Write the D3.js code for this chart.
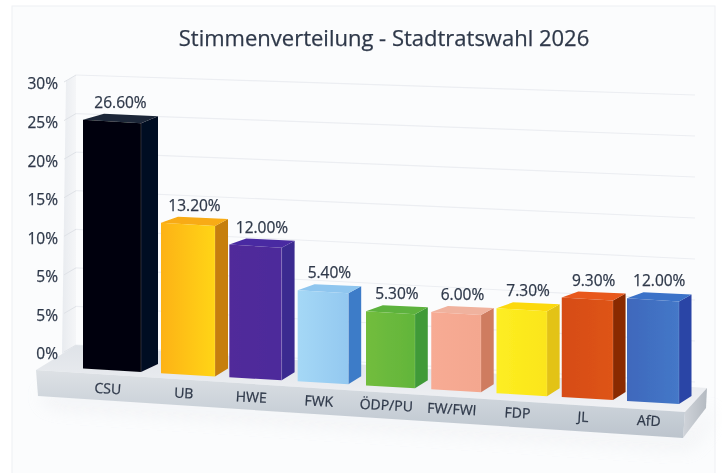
<!DOCTYPE html>
<html>
<head>
<meta charset="utf-8">
<script src="https://cdn.jsdelivr.net/npm/d3@7"></script>
<style>
  html, body { margin: 0; padding: 0; background: #fff; }
  text { font-family: "Open Sans", "Noto Sans", sans-serif; fill: #2f394a; stroke: #2f394a; stroke-width: 0.25px; }
</style>
</head>
<body>
<div id="chart"></div>
<script>
// Chart data
const categories = ["CSU", "UB", "HWE", "FWK", "ÖDP/PU", "FW/FWI", "FDP", "JL", "AfD"];
const valueLabels = ["26.60%", "13.20%", "12.00%", "5.40%", "5.30%", "6.00%", "7.30%", "9.30%", "12.00%"];
// Printed numbers and bar heights disagree in the picture, so heights are read
// separately, in rows of the axis (0 = "0%" row, 7 = "30%" row)
const barLevels = [6.45, 3.9, 3.44, 2.36, 1.92, 2.0, 2.2, 2.58, 2.66];
const tickLabels = ["30%", "25%", "20%", "15%", "10%", "5%", "5%", "0%"];

// Colours: front left, front right, side, top
const barColors = [
    ["#04050e", "#04050e", "#060a20", "#1c2838"],
    ["#fdb216", "#ffd518", "#c67f10", "#f8ab12"],
    ["#51299a", "#4d2b9b", "#3b2b90", "#4a2ca2"],
    ["#a5d8f6", "#93c8f0", "#3e7cc8", "#8fc6ef"],
    ["#72bd3e", "#62b53a", "#3f9a38", "#5db23c"],
    ["#f7ab94", "#f4a78f", "#cf7b60", "#f0b29e"],
    ["#fdee22", "#fbe51a", "#e3c312", "#fcd90c"],
    ["#d64c16", "#de5418", "#8a2c06", "#e8581c"],
    ["#3f68bc", "#4478c8", "#2a45a6", "#3a72c8"]
];

const width = 722, height = 473;

const svg = d3.select("#chart")
    .append("svg")
    .attr("width", width)
    .attr("height", height)
    .style("display", "block");

const defs = svg.append("defs");
defs.append("filter").attr("id", "soft")
    .append("feGaussianBlur").attr("stdDeviation", 0.45);
defs.append("filter").attr("id", "shadow")
    .attr("x", "-20%").attr("y", "-50%").attr("width", "140%").attr("height", "200%")
    .append("feGaussianBlur").attr("stdDeviation", 10);

function gradient(id, x2, y2, stops) {
    const g = defs.append("linearGradient").attr("id", id)
        .attr("x1", 0).attr("y1", 0).attr("x2", x2).attr("y2", y2);
    stops.forEach((c, i) => g.append("stop")
        .attr("offset", i / (stops.length - 1))
        .attr("stop-color", c));
    return `url(#${id})`;
}

// Scales, the anchors follow the perspective of the picture
const xLeft = d3.scaleLinear().domain([0, 1, 4, 8]).range([83, 161, 366, 627]);
const barWidth = d3.scaleLinear().domain([0, 1, 4, 8]).range([58, 54, 49, 52]);
const barDepth = d3.scaleLinear().domain([0, 1, 8]).range([17, 13, 12.5]);
const baseY = d3.scaleLinear().domain([141, 679]).range([372, 404]);
const levelHeight = d3.scaleLinear().domain([0, 7]).range([0, 270]);
const tickRow = d3.scaleLinear().domain([0, 7]).range([84, 354]);
const wallLeft = d3.scaleLinear().domain([0, 7]).range([345, 75]);
const wallRight = d3.scaleLinear().domain([0, 7]).range([382, 95]);

const line = d3.line();

// Panel behind everything
svg.append("rect")
    .attr("x", 12).attr("y", 6)
    .attr("width", 703).attr("height", 480)
    .attr("fill", "#fbfcfd")
    .attr("stroke", "#eef0f3");

const chart = svg.append("g").attr("filter", "url(#soft)");

// Shadow of the platform
chart.append("path")
    .attr("d", line([[40, 392], [686, 436], [712, 408], [712, 416], [690, 446], [50, 404]]))
    .attr("fill", "#d3d7de")
    .attr("opacity", 0.4)
    .attr("filter", "url(#shadow)");

// Side wall
chart.append("path")
    .attr("d", line([[66, 81], [76, 75], [76, 345], [62, 354]]) + "Z")
    .attr("fill", gradient("wall", 1, 0, ["#e8ebef", "#f5f6f8"]));

// Grid lines on back wall and short ones on the side wall
d3.range(0, 8).forEach(k => {
    chart.append("line")
        .attr("x1", 76).attr("y1", wallLeft(k))
        .attr("x2", 695).attr("y2", wallRight(k))
        .attr("stroke", "#eceef2")
        .attr("stroke-width", 1.2);
    chart.append("line")
        .attr("x1", 64).attr("y1", wallLeft(k) + 7)
        .attr("x2", 76).attr("y2", wallLeft(k))
        .attr("stroke", "#dfe2e7")
        .attr("stroke-width", 1);
});

// Platform, top, right and front faces
chart.append("path")
    .attr("d", line([[36, 370], [62, 354], [76, 345], [707, 388], [685, 412]]) + "Z")
    .attr("fill", gradient("floor", 0, 1, ["#dfe3e8", "#f1f2f5"]));
chart.append("path")
    .attr("d", line([[685, 412], [707, 388], [706, 408], [683, 438]]) + "Z")
    .attr("fill", gradient("platSide", 1, 0, ["#d0d4da", "#b4bac1"]));
chart.append("path")
    .attr("d", line([[36, 370], [685, 412], [683, 438], [38, 396]]) + "Z")
    .attr("fill", gradient("platFront", 0, 1, ["#dde1e5", "#ccd3da", "#bcc4cd"]));

// Tick labels
const yAxis = chart.append("g")
    .attr("transform", "translate(58,0)")
    .call(d3.axisLeft(tickRow)
        .tickValues(d3.range(tickLabels.length))
        .tickSize(0)
        .tickPadding(0)
        .tickFormat(i => tickLabels[i]));
yAxis.select(".domain").remove();
yAxis.selectAll("text")
    .style("font-family", "'Open Sans', sans-serif")
    .style("font-size", "15.5px");

// Title
chart.append("text")
    .attr("x", 384)
    .attr("y", 46)
    .attr("text-anchor", "middle")
    .style("font-size", "22px")
    .text("Stimmenverteilung - Stadtratswahl 2026");

// Bars
categories.forEach((name, i) => {
    const x0 = xLeft(i),
          x1 = x0 + barWidth(i),
          d = barDepth(i),
          h = levelHeight(barLevels[i]),
          b0 = baseY(x0),
          b1 = baseY(x1),
          c = barColors[i];

    const bar = chart.append("g");

    // Side
    bar.append("path")
        .attr("d", line([[x1, b1], [x1, b1 - h], [x1 + d, b1 - h - 7], [x1 + d, b1 - 8]]) + "Z")
        .attr("fill", c[2]);
    // Top
    bar.append("path")
        .attr("d", line([[x0, b0 - h], [x1, b1 - h], [x1 + d, b1 - h - 7], [x0 + d + 4, b0 - h - 6]]) + "Z")
        .attr("fill", c[3]);
    // Front
    bar.append("path")
        .attr("d", line([[x0, b0], [x0, b0 - h], [x1, b1 - h], [x1, b1]]) + "Z")
        .attr("fill", gradient(`front${i}`, 1, 0, [c[0], c[1]]));
    // Light edge between front and side
    bar.append("line")
        .attr("x1", x1).attr("y1", b1)
        .attr("x2", x1).attr("y2", b1 - h)
        .attr("stroke", "#fff")
        .attr("stroke-opacity", 0.14);

    // Value above the bar
    chart.append("text")
        .attr("x", (x0 + x1 + d) / 2)
        .attr("y", b1 - h - 15)
        .attr("text-anchor", "middle")
        .style("font-size", "15.5px")
        .text(valueLabels[i]);

    // Category on the platform, it follows the slope of the front edge
    const cx = (x0 + x1) / 2 - 4.5,
          cy = baseY(cx) + 23.5;
    chart.append("text")
        .attr("transform", `translate(${cx},${cy}) rotate(3)`)
        .attr("text-anchor", "middle")
        .style("font-size", "14px")
        .text(name);
});
</script>
</body>
</html>
